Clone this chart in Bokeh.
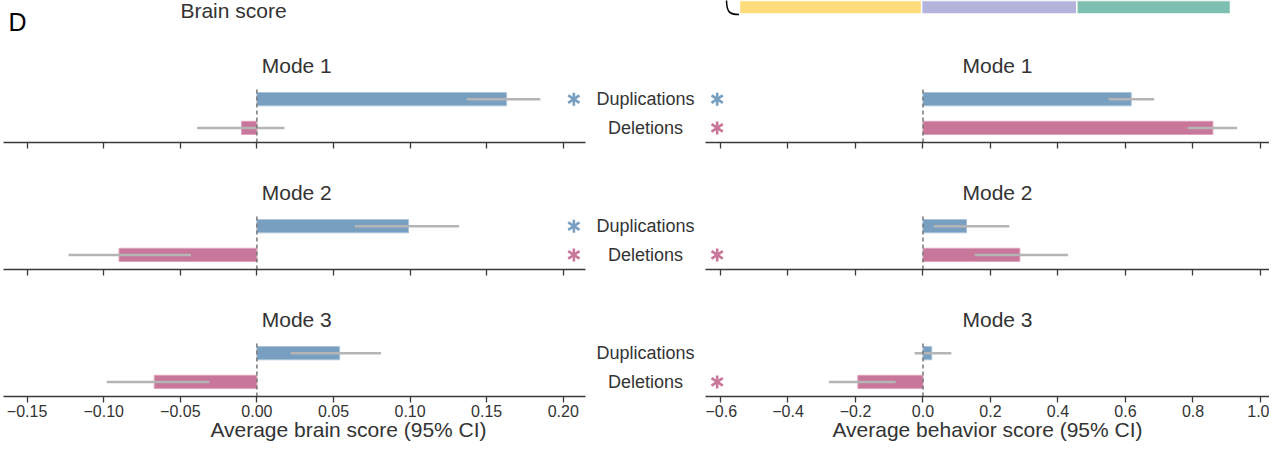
import math
from bokeh.plotting import figure
from bokeh.layouts import column, row
from bokeh.models import Range1d, FixedTicker, ColumnDataSource
from bokeh.core.properties import value
from bokeh.embed import file_html
from bokeh.resources import INLINE

# ---------------- data ----------------
modes = ["Mode 1", "Mode 2", "Mode 3"]
groups = ["Duplications", "Deletions"]

brain_dup = [0.163, 0.099, 0.054]
brain_dup_lo = [0.137, 0.064, 0.022]
brain_dup_hi = [0.185, 0.132, 0.081]
brain_del = [-0.010, -0.090, -0.067]
brain_del_lo = [-0.039, -0.123, -0.098]
brain_del_hi = [0.018, -0.043, -0.031]

beh_dup = [0.617, 0.129, 0.026]
beh_dup_lo = [0.550, 0.032, -0.025]
beh_dup_hi = [0.685, 0.256, 0.084]
beh_del = [0.859, 0.287, -0.193]
beh_del_lo = [0.784, 0.153, -0.279]
beh_del_hi = [0.931, 0.430, -0.081]

# significance stars (dup, del) per mode
brain_sig_dup = [True, True, False]
brain_sig_del = [False, True, False]
beh_sig_dup = [True, False, False]
beh_sig_del = [True, True, True]

brain_ticks = [-0.15, -0.10, -0.05, 0.0, 0.05, 0.10, 0.15, 0.20]
brain_tick_labels = ["\u22120.15", "\u22120.10", "\u22120.05", "0.00", "0.05", "0.10", "0.15", "0.20"]
beh_ticks = [-0.6, -0.4, -0.2, 0.0, 0.2, 0.4, 0.6, 0.8, 1.0]
beh_tick_labels = ["\u22120.6", "\u22120.4", "\u22120.2", "0.0", "0.2", "0.4", "0.6", "0.8", "1.0"]

brain_xlabel = "Average brain score (95% CI)"
beh_xlabel = "Average behavior score (95% CI)"

# top strip: stacked proportion bar
top_parts = [0.371, 0.316, 0.313]
top_colors = ["#fedc7c", "#b4b3dc", "#7fbfb1"]

# ---------------- style / layout ----------------
FONT = "Liberation Sans"
TEXT = "#333333"
BLUE = "#789fc0"
BLUE_EDGE = "#a9c3da"
PINK = "#c9769b"
PINK_EDGE = "#dea3bd"
ERR = "#b5b5b5"
AX = "#3a3a3a"

L_W, R_W = 705, 564
L_START, L_END = -0.16736, 0.28695
L_BOUNDS = (-0.1654, 0.2145)
R_START, R_END = -0.6444, 1.02667
Y0, Y1 = -0.509, 2.975
DASH_TOP = 1.442
TITLE_Y = 2.19
BAR_H = 0.46
L_TITLE_X, R_TITLE_X = 0.026, 0.2207
MID_X = 0.2537
L_STAR_X, R_STAR_X = 0.2069, -0.6098
ROW_H = [127, 127, 147]
ROW_BB = [27, 27, 47]


def stars(p, xs, ys, colors):
    if not xs:
        return
    for ang in (0, math.pi):
        p.scatter(x=xs, y=ys, marker="y", angle=ang, size=13, line_color=colors,
                  line_width=2.6)


def make_panel(i, left):
    last = i == 2
    p = figure(
        width=L_W if left else R_W,
        height=ROW_H[i],
        x_range=Range1d(L_START, L_END) if left else Range1d(R_START, R_END),
        y_range=Range1d(Y0, Y1),
        toolbar_location=None,
        output_backend="svg",
        y_axis_location=None,
        min_border_left=0,
        min_border_right=9 if left else 0,
        min_border_top=0,
        min_border_bottom=ROW_BB[i],
    )
    p.outline_line_color = None
    p.grid.visible = False
    p.background_fill_color = "white"
    p.border_fill_color = "white"

    dup = (brain_dup if left else beh_dup)[i]
    dlo = (brain_dup_lo if left else beh_dup_lo)[i]
    dhi = (brain_dup_hi if left else beh_dup_hi)[i]
    de = (brain_del if left else beh_del)[i]
    elo = (brain_del_lo if left else beh_del_lo)[i]
    ehi = (brain_del_hi if left else beh_del_hi)[i]

    src = ColumnDataSource(dict(
        y=[1, 0], right=[dup, de], lo=[dlo, elo], hi=[dhi, ehi],
        fill=[BLUE, PINK], edge=[BLUE_EDGE, PINK_EDGE]))
    p.hbar(y="y", left=0, right="right", height=BAR_H, fill_color="fill",
           line_color="edge", line_width=1, source=src)
    p.segment(x0="lo", x1="hi", y0="y", y1="y", line_color=ERR, line_width=2.5, source=src)
    p.segment(x0=[0], x1=[0], y0=[Y0], y1=[DASH_TOP], line_color="#777777",
              line_width=1.5, line_dash="4 3")

    p.text(x=[L_TITLE_X if left else R_TITLE_X], y=[TITLE_Y], text=[modes[i]],
           text_font=value(FONT), text_font_size="21px", text_color=TEXT,
           text_align="center", text_baseline="middle")

    # significance stars
    sig_d = (brain_sig_dup if left else beh_sig_dup)[i]
    sig_e = (brain_sig_del if left else beh_sig_del)[i]
    sx, sy, sc = [], [], []
    if sig_d:
        sx.append(L_STAR_X if left else R_STAR_X); sy.append(1); sc.append(BLUE)
    if sig_e:
        sx.append(L_STAR_X if left else R_STAR_X); sy.append(0); sc.append(PINK)
    stars(p, sx, sy, sc)

    if left:
        p.text(x=[MID_X, MID_X], y=[1, 0], text=groups, text_align="center",
               text_baseline="middle", text_font=value(FONT), text_font_size="18px",
               text_color=TEXT)

    ax = p.xaxis[0]
    ticks = brain_ticks if left else beh_ticks
    labels = brain_tick_labels if left else beh_tick_labels
    ax.ticker = FixedTicker(ticks=ticks)
    if last:
        ax.major_label_overrides = {t: s for t, s in zip(ticks, labels)}
    else:
        ax.major_label_overrides = {t: "" for t in ticks}
    if left:
        ax.bounds = L_BOUNDS
    ax.axis_line_color = AX
    ax.axis_line_width = 1.3
    ax.major_tick_line_color = AX
    ax.major_tick_line_width = 1.3
    ax.major_tick_out = 6
    ax.major_tick_in = 0
    ax.minor_tick_line_color = None
    ax.major_label_text_font = FONT
    ax.major_label_text_font_size = "16px"
    ax.major_label_text_color = TEXT
    ax.major_label_standoff = 2 if last else 0
    if last:
        ax.axis_label = brain_xlabel if left else beh_xlabel
        ax.axis_label_text_font = FONT
        ax.axis_label_text_font_size = "21px"
        ax.axis_label_text_font_style = "normal"
        ax.axis_label_text_color = TEXT
        ax.axis_label_standoff = -2
    return p


# top strip
TOP_H = 42
top = figure(width=L_W + R_W, height=TOP_H, x_range=Range1d(-1.5051, 1.0794),
             y_range=Range1d(0, TOP_H), toolbar_location=None, output_backend="svg",
             x_axis_location=None, y_axis_location=None, min_border=0)
top.outline_line_color = None
top.grid.visible = False
lefts = [sum(top_parts[:k]) for k in range(len(top_parts))]
rights = [sum(top_parts[:k + 1]) for k in range(len(top_parts))]
top.hbar(y=TOP_H - 6.5, height=14, left=lefts, right=rights, fill_color=top_colors,
         line_color="white", line_width=1.5)
top.bezier(x0=[-0.0265], y0=[TOP_H + 1], x1=[-0.001], y1=[TOP_H - 14],
           cx0=[-0.0265], cy0=[TOP_H - 12], cx1=[-0.020], cy1=[TOP_H - 14],
           line_color="black", line_width=1.5)
top.text(x=[-1.4888], y=[TOP_H - 21.7], text=["D"], text_font=value(FONT),
         text_font_size="25px", text_color="black", text_align="left",
         text_baseline="middle")
top.text(x=[-1.0305], y=[TOP_H - 10], text=["Brain score"], text_font=value(FONT),
         text_font_size="21px", text_color=TEXT, text_align="center",
         text_baseline="middle")

rows = [row(make_panel(i, True), make_panel(i, False)) for i in range(3)]
layout = column(top, *rows)

open("out.html", "w").write(file_html(layout, INLINE))
